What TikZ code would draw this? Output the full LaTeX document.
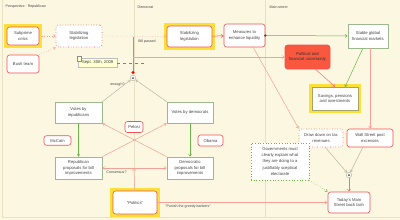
\documentclass[tikz,border=0pt]{standalone}
\usepackage{fontspec}
\setmainfont{Liberation Sans}
\usetikzlibrary{arrows.meta}
\definecolor{bgc}{HTML}{FCF7E1}
\definecolor{lanec}{HTML}{E8E1C4}
\definecolor{rb}{HTML}{EE5050}
\definecolor{pr}{HTML}{F4A098}
\definecolor{polf}{HTML}{F9583E}
\definecolor{gb}{HTML}{9DB88E}
\definecolor{ga}{HTML}{6DB34A}
\definecolor{grl}{HTML}{B9B9A2}
\definecolor{hlc}{HTML}{FCE03A}
\definecolor{txc}{HTML}{454545}
\definecolor{notec}{HTML}{FFFFD2}
\definecolor{olb}{HTML}{A4A46A}
\begin{document}
\begin{tikzpicture}[x=1pt,y=-1pt,
  base/.style={align=center,inner sep=0pt,text=txc,font=\fontsize{4.2}{5.3}\selectfont},
  redbox/.style={base,draw=rb,line width=0.6pt,rounded corners=2.5pt,fill=white},
  dotbox/.style={base,draw=rb,line width=0.6pt,dotted,rounded corners=2.5pt,fill=white},
  greenbox/.style={base,draw=gb,line width=0.7pt,fill=white},
  junc/.style={circle,draw=grl,fill=white,line width=0.5pt,minimum size=5.5pt,inner sep=0pt},
  lbl/.style={text=txc,font=\fontsize{3.6}{4}\selectfont,inner sep=0.5pt},
  tip/.style={-{Straight Barb[length=2.2pt,width=3pt]}},
  prl/.style={draw=pr,line width=0.5pt},
  gal/.style={draw=ga,line width=0.5pt},
  grll/.style={draw=grl,line width=0.5pt}]
\fill[bgc] (0,0) rectangle (400,220);
\useasboundingbox (0,0) rectangle (400,220);
% lanes
\draw[lanec,line width=0.8pt] (2.5,0) -- (2.5,217.5) -- (400,217.5);
\draw[lanec,line width=0.8pt] (134,0) -- (134,217.5);
\draw[lanec,line width=1.5pt] (265.5,0) -- (265.5,217.5);
\node[lbl,anchor=west] (h1) at (5,7) {Perspective : Republican};
\node[lbl,anchor=west] (h2) at (137,7) {Democrat};
\node[lbl,anchor=west] (h3) at (269,7) {Main street};
% highlights
\fill[hlc] (4,24) rectangle (42,48);
\fill[hlc] (164,23) rectangle (215,50);
\fill[hlc] (309,84) rectangle (361,113);
\fill[hlc] (110,188) rectangle (160,217);
% nodes
\node[redbox,minimum width=32pt,minimum height=18pt] (subprime) at (23,36) {Subprime\\crisis};
\node[redbox,minimum width=32pt,minimum height=18pt] (bush) at (23,64) {Bush team};
\node[dotbox,minimum width=46pt,minimum height=22pt] (stab1) at (79,36) {Stabilizing\\legislation};
\node[redbox,minimum width=45pt,minimum height=21pt] (stab2) at (189.5,36.5) {Stabilizing\\legislation};
\node[redbox,minimum width=41pt,minimum height=23pt] (measures) at (244.5,35.5) {Measures to\\enhance liquidity};
\node[greenbox,minimum width=40pt,minimum height=24pt] (stable) at (368,36) {Stable global\\financial markets};
\node[redbox,fill=polf,text=black!80,minimum width=45pt,minimum height=24pt] (political) at (307.5,57) {Political and\\financial uncertainty};
\node[greenbox,draw=olb,minimum width=46pt,minimum height=23pt] (savings) at (335,98.5) {Savings, pensions\\and investments};
\node[dotbox,minimum width=44pt,minimum height=18pt] (drawdown) at (321,138) {Draw down on tax\\revenues};
\node[redbox,minimum width=46pt,minimum height=18pt] (wallst) at (370,138) {Wall Street post\\excesses};
\node[greenbox,dotted,draw=ga,minimum width=58pt,minimum height=37pt,font=\fontsize{4.2}{6.2}\selectfont] (govt) at (280,161.5) {Governments must\\clearly explain what\\they are doing to a\\justifiably sceptical\\electorale};
\node[junc] (j2) at (349,175) {};
\fill[black!75] (j2.center) circle (1pt);
\node[redbox,minimum width=42pt,minimum height=21pt] (today) at (349,202.5) {Today's Main\\Street back lash};
\node[redbox,minimum width=44pt,minimum height=23pt] (politics) at (135,202.5) {"Politics"};
\node[greenbox,minimum width=47pt,minimum height=21pt] (votesR) at (78.5,112.5) {Votes by\\republicans};
\node[greenbox,minimum width=46pt,minimum height=21pt] (votesD) at (190,112.5) {Votes by democrats};
\node[greenbox,minimum width=47pt,minimum height=22pt] (propR) at (78.5,168) {Republican\\proposals for bill\\improvements};
\node[greenbox,minimum width=46pt,minimum height=22pt] (propD) at (190,168) {Democratic\\proposals for bill\\improvements};
\node[redbox,minimum width=18pt,minimum height=11pt] (pelosi) at (134,127) {Pelosi};
\node[redbox,minimum width=27pt,minimum height=9.5pt] (mccain) at (57.5,140.5) {McCain};
\node[redbox,minimum width=25pt,minimum height=11pt] (obama) at (210.5,140.5) {Obama};
\node[junc] (j1) at (133,78) {};
\fill[black!75] (j1.center) circle (1pt);
% note
\node[base,draw=black!25,fill=notec,minimum width=39pt,minimum height=9pt,anchor=north west,line width=0.4pt] (note) at (78,58) {Sept. 30th, 2008};
\draw[black!45,fill=notec,line width=0.4pt] (77,56.5) rectangle (81.5,61);
\coordinate (noteend) at (146,63);
\draw[black!50,dashed,line width=0.4pt] (note.east |- noteend) -- (noteend);
% connectors
\draw[prl,dotted,tip] (subprime) -- (stab1);
\draw[prl,dotted,tip] (bush.north east) -- (stab1.south west);
\draw[prl,dotted,tip] (stab1) -- (stab2);
\node[lbl] (bp) at (147,41.5) {Bill passed};
\coordinate (rdot) at (133,72.5);
\coordinate (bptop) at (133,36.5);
\coordinate (br) at (133,57);
\draw[prl,draw=rb!80,line width=0.6pt] (rdot) -- (bptop);
\draw[prl,tip] (br) -- (political);
\fill[red] (rdot) circle (1.7pt);
\draw[grll,tip] (votesR.north east) -- (j1);
\node[lbl] (en) at (117.5,84.5) {enough?};
\draw[grll,tip] (votesD.north west) -- (j1);
\draw[gal,tip] (votesR) -- (propR);
\draw[gal,tip] (votesD) -- (propD);
\draw[prl,tip] (propR.north east) -- (votesD.south west);
\draw[prl,tip] (propD.north west) -- (votesR.south east);
\coordinate (cons) at (134,168);
\draw[prl,tip] (politics) -- (cons);
\draw[prl,tip] (cons) -- (propR);
\draw[prl,tip] (cons) -- (propD);
\node[lbl] (conslbl) at (116.5,172.5) {Consensus?};
\draw[prl,tip] (politics) -- (today);
\node[lbl] (pg) at (188,206.5) {"Punish the greedy bankers"};
\draw[draw=rb,line width=0.5pt,tip] (stab2) -- (measures);
\draw[gal,tip] (measures.east) -- (stable);
\fill[green!50!black] (measures.east) circle (1.3pt);
\draw[prl,tip] (253,47) -- (drawdown.north west);
\draw[prl,draw=rb!80,tip] (political.south) ++(8,0) coordinate (ps) -- (savings.north);
\draw[gal,tip] (363,48) -- (345,87);
\draw[prl,tip] (stable.south) ++(2,0) coordinate (ss) -- (ss |- wallst.north);
\draw[grll,tip] (325,147) -- (j2);
\draw[grll,tip] (363,147) -- (j2);
\draw[prl,draw=rb!80,tip] (j2) -- (today);
\draw[gal,dotted,tip] (govt.south east) -- (today.north west);
\end{tikzpicture}
\end{document}
